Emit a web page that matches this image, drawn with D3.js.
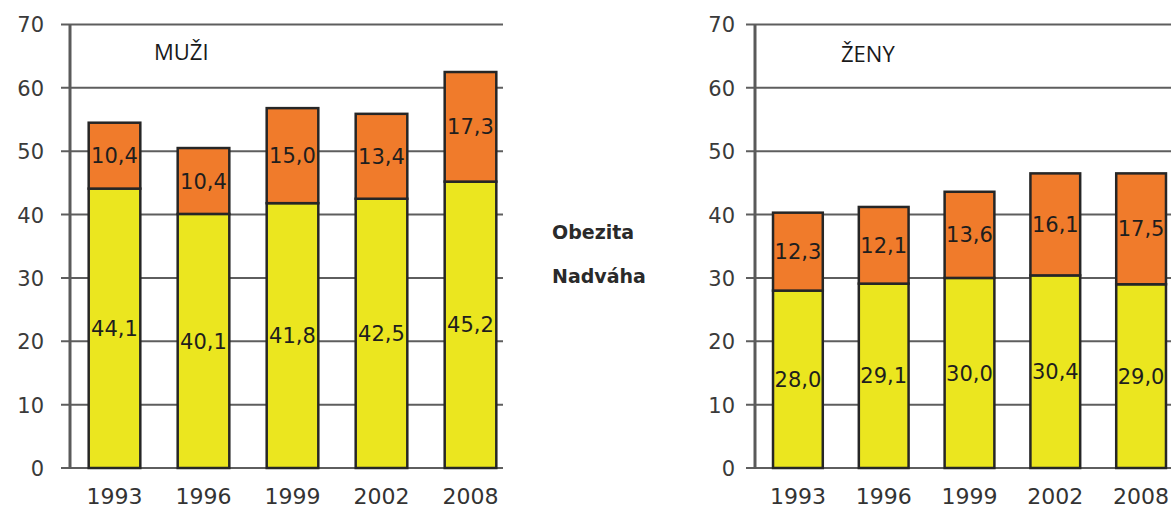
<!DOCTYPE html>
<html>
<head>
<meta charset="utf-8">
<script src="https://cdn.jsdelivr.net/npm/d3@7"></script>
<style>
  html, body { margin: 0; padding: 0; background: #fff; }
  svg { display: block; }
  .tick-label, .year-label, .value-label { font-family: "DejaVu Sans", sans-serif; }
  .panel-title { font-family: "Open Sans", sans-serif; }
  .legend-label { font-family: "DejaVu Sans", sans-serif; font-weight: bold; }
</style>
</head>
<body>
<div id="chart"></div>
<script>
// data
const years = ['1993', '1996', '1999', '2002', '2008'];
const seriesKeys = ['nadvaha', 'obezita'];
const legendLabels = ['Obezita', 'Nadváha'];
const menNadvaha = [44.1, 40.1, 41.8, 42.5, 45.2];
const menObezita = [10.4, 10.4, 15.0, 13.4, 17.3];
const womenNadvaha = [28.0, 29.1, 30.0, 30.4, 29.0];
const womenObezita = [12.3, 12.1, 13.6, 16.1, 17.5];
const yTicks = [0, 10, 20, 30, 40, 50, 60, 70];

const colors = { nadvaha: '#ebe61f', obezita: '#f07b2b' };

const width = 1171;
const height = 510;

const $svg = d3.select('#chart').append('svg')
  .attr('width', width)
  .attr('height', height);

// shared y scale, both panels sit on the same baseline
const scaleY = d3.scaleLinear().domain([0, 70]).range([468, 24.5]);
const fmt = v => d3.format('.1f')(v).replace('.', ',');

function drawPanel(opts) {
  const { title, nadvaha, obezita, axisX, rangeEnd, gridEnd, labelEnd, titleX, titleY } = opts;

  const rows = years.map((y, i) => ({ year: y, nadvaha: nadvaha[i], obezita: obezita[i] }));
  const stacked = d3.stack().keys(seriesKeys)(rows);

  const scaleX = d3.scaleBand()
    .domain(years)
    .range([axisX, rangeEnd])
    .paddingInner(0.42)
    .paddingOuter(0.21);

  const $g = $svg.append('g').attr('class', 'panel');

  // gridlines + tick marks
  $g.append('g').attr('class', 'grid')
    .selectAll('line')
    .data(yTicks)
    .join('line')
    .attr('x1', axisX - 9)
    .attr('x2', gridEnd)
    .attr('y1', d => scaleY(d))
    .attr('y2', d => scaleY(d))
    .attr('stroke', '#5e5e5e')
    .attr('stroke-width', 2);

  $g.append('g')
    .selectAll('text')
    .data(yTicks)
    .join('text')
    .attr('class', 'tick-label')
    .attr('x', labelEnd)
    .attr('y', d => scaleY(d))
    .attr('dy', '0.38em')
    .attr('text-anchor', 'end')
    .attr('font-size', 21)
    .attr('fill', '#3a3a3a')
    .text(d => d);

  // vertical axis
  $g.append('line')
    .attr('x1', axisX).attr('x2', axisX)
    .attr('y1', scaleY(70)).attr('y2', scaleY(0) + 1)
    .attr('stroke', '#5a5a5a')
    .attr('stroke-width', 3);

  // bars
  const $layers = $g.append('g').attr('class', 'bars')
    .selectAll('g')
    .data(stacked)
    .join('g')
    .attr('fill', d => colors[d.key]);

  $layers.selectAll('rect')
    .data(d => d)
    .join('rect')
    .attr('x', d => scaleX(d.data.year))
    .attr('width', scaleX.bandwidth())
    .attr('y', d => scaleY(d[1]))
    .attr('height', d => scaleY(d[0]) - scaleY(d[1]))
    .attr('stroke', '#262626')
    .attr('stroke-width', 2.5);

  // value labels
  $layers.selectAll('text')
    .data(d => d.map(v => ({ v, key: d.key })))
    .join('text')
    .attr('class', 'value-label')
    .attr('x', d => scaleX(d.v.data.year) + scaleX.bandwidth() / 2)
    .attr('y', d => scaleY((d.v[0] + d.v[1]) / 2))
    .attr('dy', '0.36em')
    .attr('text-anchor', 'middle')
    .attr('font-size', 21)
    .attr('fill', '#1e1e1e')
    .text(d => fmt(d.v.data[d.key]));

  // year labels
  $g.append('g')
    .selectAll('text')
    .data(years)
    .join('text')
    .attr('class', 'year-label')
    .attr('x', d => scaleX(d) + scaleX.bandwidth() / 2)
    .attr('y', 504)
    .attr('text-anchor', 'middle')
    .attr('font-size', 22)
    .attr('fill', '#333')
    .text(d => d);

  // title
  $g.append('text')
    .attr('class', 'panel-title')
    .attr('x', titleX)
    .attr('y', titleY)
    .attr('font-size', 22)
    .attr('fill', '#1a1a1a')
    .text(title);
}

drawPanel({
  title: 'MUŽI', nadvaha: menNadvaha, obezita: menObezita,
  axisX: 70, rangeEnd: 515, gridEnd: 503, labelEnd: 44, titleX: 154, titleY: 60,
});

drawPanel({
  title: 'ŽENY', nadvaha: womenNadvaha, obezita: womenObezita,
  axisX: 755, rangeEnd: 1184, gridEnd: 1171, labelEnd: 735, titleX: 841, titleY: 62,
});

// legend (text only, as in the original)
$svg.append('g').attr('class', 'legend')
  .selectAll('text')
  .data(legendLabels)
  .join('text')
  .attr('class', 'legend-label')
  .attr('x', 552)
  .attr('y', (d, i) => 232 + i * 44)
  .attr('dy', '0.36em')
  .attr('font-size', 19)
  .attr('fill', '#2a2a2a')
  .text(d => d);
</script>
</body>
</html>
